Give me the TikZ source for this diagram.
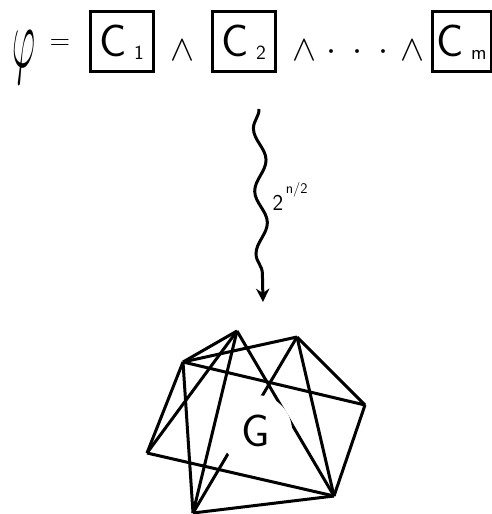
\RequirePackage{fix-cm}
\documentclass[tikz,border=0pt]{standalone}
\usetikzlibrary{decorations.pathmorphing,arrows.meta}
\newcommand{\clsub}[1]{\raisebox{-2pt}{\fontsize{15}{18}\selectfont #1}}
\begin{document}
\begin{tikzpicture}[x=0.75pt, y=-0.75pt, line width=2.25pt,
  clause/.style={draw, minimum width=47.25pt, minimum height=45pt, inner sep=0pt,
    text depth=0pt, font=\fontsize{34}{40}\selectfont\sffamily},
  conj/.style={anchor=base, inner sep=0pt, font=\fontsize{27}{30}\selectfont}]
  \useasboundingbox (0,0) rectangle (492,514);
  % 식
  \node[xscale=0.42, inner sep=0pt, font=\fontsize{64}{70}\selectfont] (phi) at (24,57) {$\varphi$};
  \node[conj, font=\fontsize{21}{24}\selectfont] (eq) at (60,49.5) {$=$};
  \node[clause] (c1) at (121.5,41) {C\,\clsub{1}};
  \node[conj] (w1) at (182.5,60) {$\wedge$};
  \node[clause] (c2) at (243.5,41) {C\,\clsub{2}};
  \node[conj] (w2) at (304,60) {$\wedge$};
  \node[conj] (dots) at (357.5,60) {$\cdot\hspace{6pt}\cdot\hspace{6pt}\cdot$};
  \node[conj] (w3) at (412.5,60) {$\wedge$};
  \node[clause, minimum width=44.25pt] (cm) at (461.5,41) {C\,\clsub{m}};
  % 화살표
  \coordinate (wtop) at (259,109);
  \coordinate (wend) at (263,302);
  \draw[-{Stealth[length=10pt,width=10pt]}, decorate,
    decoration={snake, segment length=47pt, amplitude=4.5pt, post length=18pt, mirror}] (wtop) -- (wend);
  \node[anchor=base west, inner sep=0pt, font=\fontsize{17}{20}\selectfont\sffamily] (rate) at (271,210)
    {2\hspace{2pt}\raisebox{12.75pt}{\fontsize{11}{13}\selectfont n/2}};
  % 그래프
  \coordinate (p1) at (237,331);
  \coordinate (p2) at (183,362);
  \coordinate (p3) at (297,337);
  \coordinate (p4) at (365,405);
  \coordinate (p5) at (147,453);
  \coordinate (p6) at (334,496);
  \coordinate (p7) at (193,513);
  \draw (p1) -- (p2);
  \draw (p1) -- (p5);
  \draw (p1) -- (p7);
  \draw (p1) -- (p6);
  \draw (p2) -- (p3);
  \draw (p2) -- (p4);
  \draw (p2) -- (p5);
  \draw (p2) -- (p7);
  \draw (p3) -- (p4);
  \draw (p3) -- (p6);
  \draw (p3) -- (p7);
  \draw (p4) -- (p6);
  \draw (p5) -- (p6);
  \draw (p7) -- (p6);
  \node[circle, fill=white, minimum size=54pt, inner sep=0pt,
    font=\fontsize{34}{40}\selectfont\sffamily] (g) at (256,431) {G};
\end{tikzpicture}
\end{document}
